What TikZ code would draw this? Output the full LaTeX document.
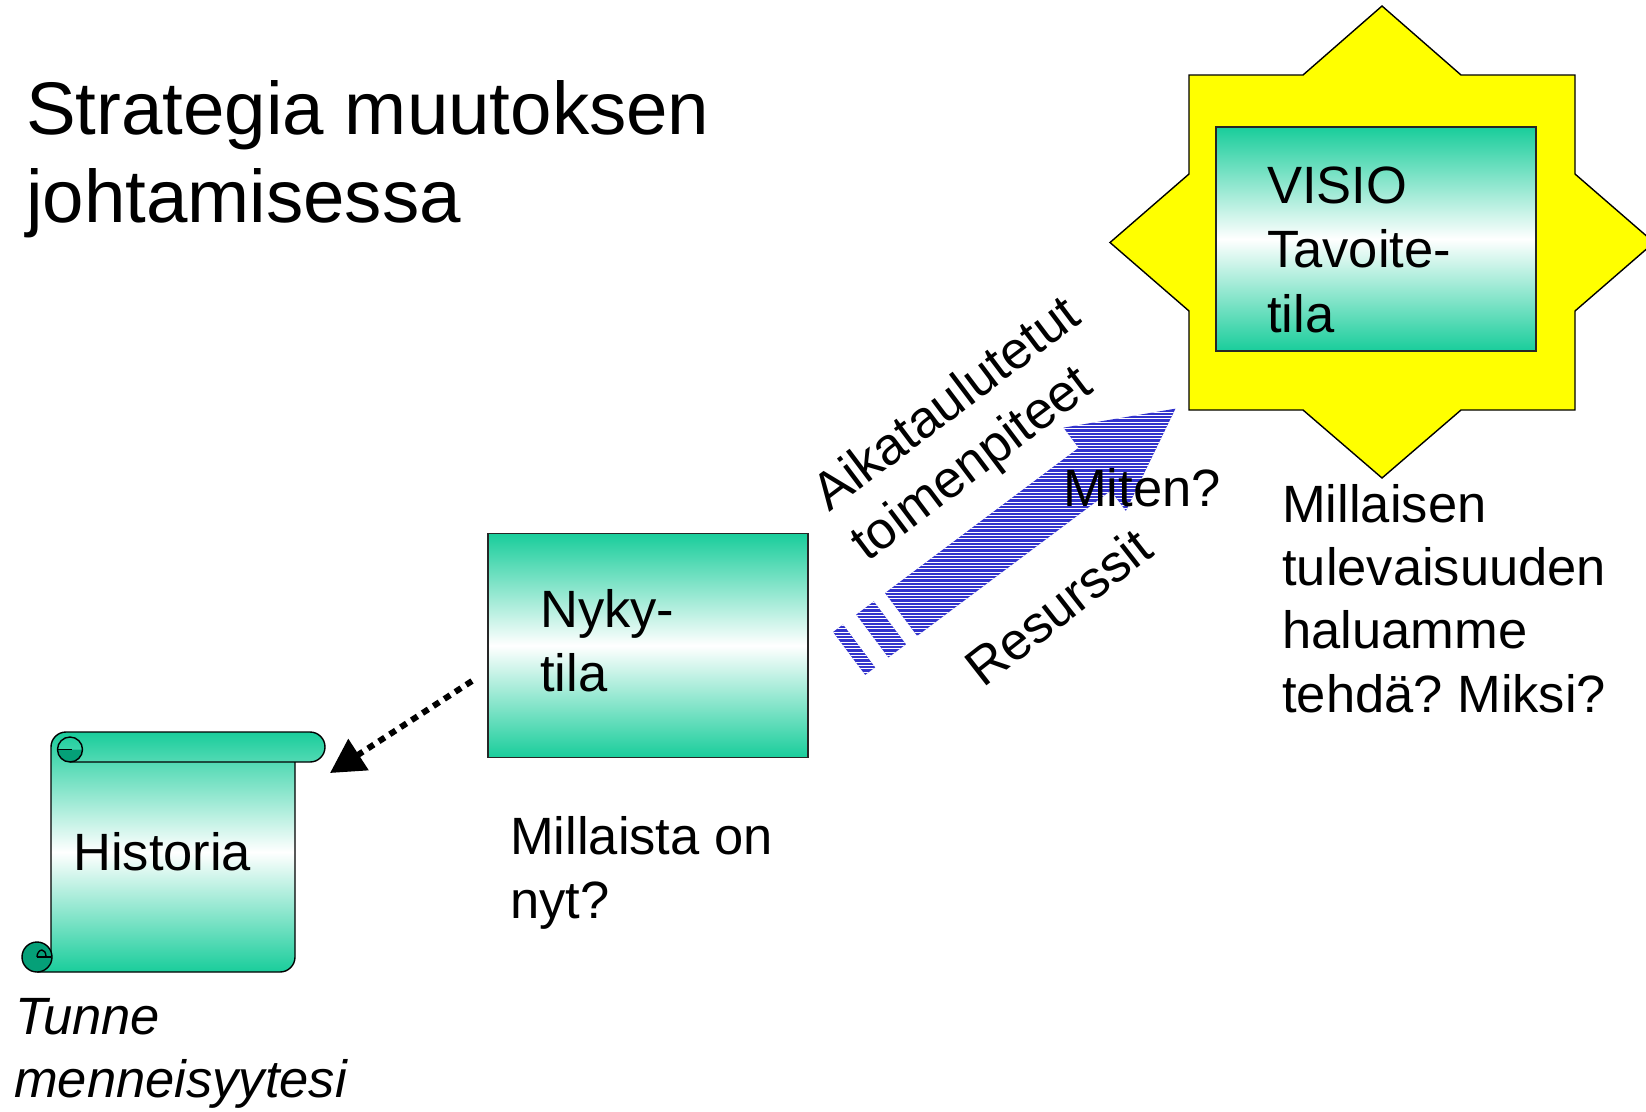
\documentclass[tikz,border=0pt]{standalone}
\usepackage{fontspec}
\setmainfont{Liberation Sans}
\usetikzlibrary{arrows.meta}
\definecolor{tealc}{RGB}{25,205,155}
\definecolor{curlc}{RGB}{5,160,120}
\definecolor{stary}{RGB}{255,255,0}
\definecolor{arrowblue}{RGB}{51,51,204}
\frenchspacing
\begin{document}
\begin{tikzpicture}[x=1pt,y=-1pt,
  txt/.style={inner sep=0pt, anchor=base west, font=\fontsize{52.5}{63}\selectfont},
  ttl/.style={inner sep=0pt, anchor=base west, font=\fontsize{74.5}{88}\selectfont},
  gradfill/.style={top color=tealc, bottom color=tealc, middle color=white},
  gradbox/.style={gradfill, draw=black!85, line width=1.6pt, inner sep=0pt,
    minimum width=320pt, minimum height=224pt},
  outline/.style={draw=black, line width=1.4pt},
  dotarrow/.style={line width=6pt, dash pattern=on 7pt off 6pt, line cap=butt,
    -{Triangle[length=34pt,width=36pt]}}
]
\useasboundingbox (0,0) rectangle (1646,1111);
\clip (0,0) rectangle (1646,1111);

% Title
\node[ttl] (t1) at (26,134) {Strategia muutoksen};
\node[ttl] (t2) at (26,222) {johtamisessa};

% Star (square + diamond)
\coordinate (starc) at (1382,242.5);
\filldraw[fill=stary, draw=black, line width=1.4pt]
  (1382,6) -- (1461,75) -- (1575,75) -- (1575,174) -- (1654,242.5) -- (1575,311)
  -- (1575,410) -- (1461,410) -- (1382,478) -- (1303,410) -- (1189,410)
  -- (1189,311) -- (1110,242.5) -- (1189,174) -- (1189,75) -- (1303,75) -- cycle;
\node[gradbox] (visio) at (1376,239) {};
\node[txt] (v1) at (1267,203) {VISIO};
\node[txt] (v2) at (1267,267) {Tavoite-};
\node[txt] (v3) at (1267,332) {tila};

% Future text
\node[txt] (f1) at (1282,522) {Millaisen};
\node[txt] (f2) at (1282,585) {tulevaisuuden};
\node[txt] (f3) at (1282,648) {haluamme};
\node[txt] (f4) at (1282,712) {tehdä? Miksi?};

% Nyky-tila box
\node[gradbox] (nyky) at (648,645.5) {};
\node[txt] (n1) at (540,627) {Nyky-};
\node[txt] (n2) at (540,691) {tila};
\node[txt] (m1) at (510,854) {Millaista on};
\node[txt] (m2) at (510,918) {nyt?};

% Striped arrow
\begin{scope}[shift={(885,593)}, rotate=36.87]
  \coordinate (a1) at (0,0);
  \coordinate (a2) at (242,0);
  \coordinate (a3) at (242,-25.2);
  \coordinate (a4) at (343,26.8);
  \coordinate (a5) at (242,78.8);
  \coordinate (a6) at (242,53.6);
  \coordinate (a7) at (0,53.6);
  \coordinate (b1) at (-36,0);
  \coordinate (b2) at (-14,0);
  \coordinate (b3) at (-14,53.6);
  \coordinate (b4) at (-36,53.6);
  \coordinate (c1) at (-65,0);
  \coordinate (c2) at (-52.5,0);
  \coordinate (c3) at (-52.5,53.6);
  \coordinate (c4) at (-65,53.6);
\end{scope}
\begin{scope}
  \clip (a1) -- (a2) -- (a3) -- (a4) -- (a5) -- (a6) -- (a7) -- cycle
        (b1) -- (b2) -- (b3) -- (b4) -- cycle
        (c1) -- (c2) -- (c3) -- (c4) -- cycle;
  \fill[arrowblue] (800,380) rectangle (1200,700);
  \foreach \i in {0,...,95}
    \draw[white, line width=0.6pt] (800,{382+\i*3.333}) -- (1200,{382+\i*3.333});
\end{scope}

% Arrow labels
\node[txt, rotate=37] (k1) at (829,513) {Aikataulutetut};
\node[txt, rotate=37] (k2) at (867,563) {toimenpiteet};
\node[txt] (miten) at (1063,506) {Miten?};
\node[txt, rotate=38] (res) at (983,689) {Resurssit};

% Scroll (Historia)
\shade[gradfill]
  (37,972) -- (280,972) .. controls (288.3,972) and (295,965.3) .. (295,957)
  -- (295,762) -- (310,762) .. controls (318.3,762) and (325,755.3) .. (325,747)
  .. controls (325,738.7) and (318.3,732) .. (310,732) -- (66,732)
  .. controls (57.7,732) and (51,738.7) .. (51,747) -- (51,957) -- (37,957) -- cycle;
\draw[outline]
  (51,957) -- (51,747) .. controls (51,738.7) and (57.7,732) .. (66,732)
  -- (310,732) .. controls (318.3,732) and (325,738.7) .. (325,747)
  .. controls (325,755.3) and (318.3,762) .. (310,762) -- (70,762);
\draw[outline]
  (295,762) -- (295,957) .. controls (295,965.3) and (288.3,972) .. (280,972) -- (37,972);
% top-left curl
\fill[curlc] (82.5,749.5) .. controls (82.5,756.4) and (76.9,762) .. (70,762)
  .. controls (63.1,762) and (57.5,756.4) .. (57.5,749.5) -- cycle;
\draw[outline] (70,749.5) circle[radius=12.5pt];
\draw[outline] (57.5,749.5) -- (72,749.5);
% bottom-left curl
\filldraw[fill=curlc, outline] (37,957) circle[radius=15pt];
\draw[outline] (37,957) .. controls (37,952.6) and (39.8,950) .. (42,950)
  .. controls (44.2,950) and (46,952.6) .. (46,957);
\draw[outline] (37,957) -- (51,957);

\node[txt] (hist) at (73,870) {Historia};
\node[txt, font=\fontsize{52.5}{63}\selectfont\itshape] (tu1) at (15,1034) {Tunne};
\node[txt, font=\fontsize{52.5}{63}\selectfont\itshape] (tu2) at (14,1097) {menneisyytesi};

% Dotted arrow from Nyky-tila to Historia
\coordinate (dstart) at (472,681);
\coordinate (dend) at (330,773);
\draw[dotarrow] (dstart) -- (dend);
\end{tikzpicture}
\end{document}
